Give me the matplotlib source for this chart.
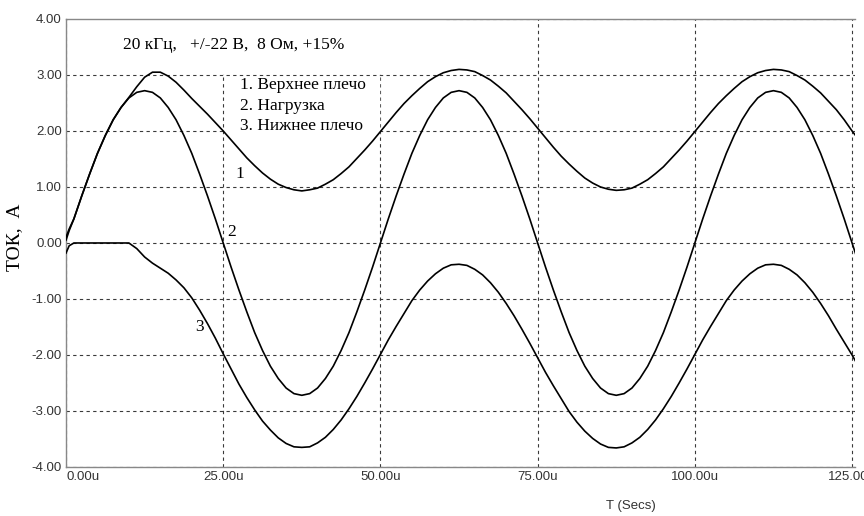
import matplotlib
matplotlib.use('Agg')
import matplotlib.pyplot as plt
from matplotlib.patches import Rectangle

# время, мкс
t_us = [0, 0.5, 1.25, 2.5, 3.75, 5, 6.25, 7.5, 8.75, 10,
        11.25, 12.5, 13.75, 15, 16.25, 17.5, 18.75, 20, 21.25, 22.5,
        23.75, 25, 26.25, 27.5, 28.75, 30, 31.25, 32.5, 33.75, 35,
        36.25, 37.5, 38.75, 40, 41.25, 42.5, 43.75, 45, 46.25, 47.5,
        48.75, 50, 51.25, 52.5, 53.75, 55, 56.25, 57.5, 58.75, 60,
        61.25, 62.5, 63.75, 65, 66.25, 67.5, 68.75, 70, 71.25, 72.5,
        73.75, 75, 76.25, 77.5, 78.75, 80, 81.25, 82.5, 83.75, 85,
        86.25, 87.5, 88.75, 90, 91.25, 92.5, 93.75, 95, 96.25, 97.5,
        98.75, 100, 101.25, 102.5, 103.75, 105, 106.25, 107.5, 108.75, 110,
        111.25, 112.5, 113.75, 115, 116.25, 117.5, 118.75, 120, 121.25, 122.5,
        123.75, 125, 126.25, 127.5]

# 1. верхнее плечо
upper = [0.10, 0.25, 0.43, 0.84, 1.23, 1.60, 1.92, 2.20, 2.42, 2.60,
         2.79, 2.96, 3.05, 3.05, 2.98, 2.87, 2.73, 2.58, 2.44, 2.30,
         2.15, 2.00, 1.84, 1.68, 1.52, 1.38, 1.25, 1.14, 1.05, 0.99,
         0.95, 0.93, 0.95, 0.98, 1.05, 1.13, 1.24, 1.36, 1.51, 1.66,
         1.82, 1.99, 2.16, 2.33, 2.49, 2.63, 2.76, 2.88, 2.97, 3.04,
         3.08, 3.10, 3.09, 3.06, 2.99, 2.91, 2.80, 2.68, 2.53, 2.38,
         2.22, 2.05, 1.88, 1.71, 1.55, 1.41, 1.28, 1.16, 1.07, 1.00,
         0.96, 0.94, 0.95, 0.98, 1.05, 1.13, 1.24, 1.36, 1.51, 1.66,
         1.82, 1.99, 2.16, 2.33, 2.49, 2.63, 2.76, 2.88, 2.97, 3.04,
         3.08, 3.10, 3.09, 3.06, 2.99, 2.91, 2.80, 2.68, 2.53, 2.38,
         2.20, 2.00, 1.82, 1.66]

# 2. нагрузка
load = [0.05, 0.22, 0.43, 0.84, 1.23, 1.60, 1.92, 2.20, 2.42, 2.59,
        2.69, 2.72, 2.69, 2.59, 2.42, 2.20, 1.92, 1.60, 1.23, 0.84,
        0.43, 0.00, -0.43, -0.84, -1.23, -1.60, -1.92, -2.20, -2.42, -2.59,
        -2.69, -2.72, -2.69, -2.59, -2.42, -2.20, -1.92, -1.60, -1.23, -0.84,
        -0.43, 0.00, 0.43, 0.84, 1.23, 1.60, 1.92, 2.20, 2.42, 2.59,
        2.69, 2.72, 2.69, 2.59, 2.42, 2.20, 1.92, 1.60, 1.23, 0.84,
        0.43, 0.00, -0.43, -0.84, -1.23, -1.60, -1.92, -2.20, -2.42, -2.59,
        -2.69, -2.72, -2.69, -2.59, -2.42, -2.20, -1.92, -1.60, -1.23, -0.84,
        -0.43, 0.00, 0.43, 0.84, 1.23, 1.60, 1.92, 2.20, 2.42, 2.59,
        2.69, 2.72, 2.69, 2.59, 2.42, 2.20, 1.92, 1.60, 1.23, 0.84,
        0.43, 0.00, -0.43, -0.84]

# 3. нижнее плечо
lower = [-0.18, -0.05, 0.00, 0.00, 0.00, 0.00, 0.00, 0.00, 0.00, 0.00,
         -0.10, -0.25, -0.36, -0.45, -0.54, -0.66, -0.80, -0.98, -1.20, -1.44,
         -1.70, -1.98, -2.25, -2.52, -2.76, -2.98, -3.18, -3.34, -3.48, -3.58,
         -3.64, -3.65, -3.64, -3.57, -3.47, -3.33, -3.16, -2.96, -2.74, -2.50,
         -2.25, -1.99, -1.73, -1.49, -1.26, -1.03, -0.84, -0.68, -0.55, -0.45,
         -0.39, -0.38, -0.40, -0.47, -0.57, -0.71, -0.88, -1.08, -1.30, -1.54,
         -1.79, -2.05, -2.31, -2.55, -2.78, -3.01, -3.20, -3.36, -3.49, -3.59,
         -3.65, -3.66, -3.64, -3.57, -3.47, -3.33, -3.16, -2.96, -2.74, -2.50,
         -2.25, -1.99, -1.73, -1.49, -1.26, -1.03, -0.84, -0.68, -0.55, -0.45,
         -0.39, -0.38, -0.40, -0.47, -0.57, -0.71, -0.88, -1.08, -1.30, -1.54,
         -1.77, -2.00, -2.25, -2.50]

x_ticks = [0, 25, 50, 75, 100, 125]
x_labels = ['0.00u', '25.00u', '50.00u', '75.00u', '100.00u', '125.00u']
y_ticks = [-4, -3, -2, -1, 0, 1, 2, 3, 4]

title_txt = '20 кГц,   +/-22 В,  8 Ом, +15%'
legend_txt = ['1. Верхнее плечо', '2. Нагрузка', '3. Нижнее плечо']

serif = ['Liberation Serif', 'DejaVu Serif']
sans = ['Liberation Sans', 'DejaVu Sans']

fig = plt.figure(figsize=(8.64, 5.16), dpi=100)
ax = fig.add_axes([0.0764, 0.095, 0.9127, 0.8682])

for y in (upper, load, lower):
    ax.plot(t_us, y, color='black', lw=1.2, zorder=3)

ax.set_xlim(0, 125.4)
ax.set_ylim(-4, 4)
ax.set_xticks(x_ticks)
ax.set_xticklabels(x_labels, family=sans, fontsize=9.5, color='#333333')
ax.set_yticks(y_ticks)
ax.set_yticklabels(['%.2f' % v for v in y_ticks], family=sans, fontsize=9.5, color='#333333')
ax.get_xticklabels()[0].set_ha('left')
ax.tick_params(length=0, pad=3)

ax.set_axisbelow(True)
ax.grid(True, ls=(0, (3, 3)), color='#3a3a3a', lw=0.8)
for s in ('left', 'bottom', 'top'):
    ax.spines[s].set_color('#888888')
    ax.spines[s].set_linewidth(1.0)
ax.spines['right'].set_visible(False)

# белые подложки под подписями
ax.add_patch(Rectangle((0.3, 3.03), 60, 0.95, color='white', zorder=1))
ax.add_patch(Rectangle((25.5, 1.95), 24.2, 1.02, color='white', zorder=1))

ax.text(26.6, 3.54, title_txt, family=serif, fontsize=12.5, ha='center', va='center', zorder=4)
for i, s in enumerate(legend_txt):
    ax.text(27.7, 2.82 - i * 0.365, s, family=serif, fontsize=12.5, va='center', zorder=4)

ax.text(27.7, 1.24, '1', family=serif, fontsize=12.5, ha='center', va='center', zorder=4)
ax.text(26.4, 0.19, '2', family=serif, fontsize=12.5, ha='center', va='center', zorder=4)
ax.text(21.3, -1.50, '3', family=serif, fontsize=12.5, ha='center', va='center', zorder=4)

ax.set_ylabel('ТОК,  А', family=serif, fontsize=14, va='center')
ax.yaxis.set_label_coords(-0.065, 0.512)
fig.text(631 / 864, 1 - 506 / 516, 'T (Secs)', family=sans, fontsize=9.5,
         color='#333333', ha='center', va='center')

fig.savefig('out.png', dpi=100)
